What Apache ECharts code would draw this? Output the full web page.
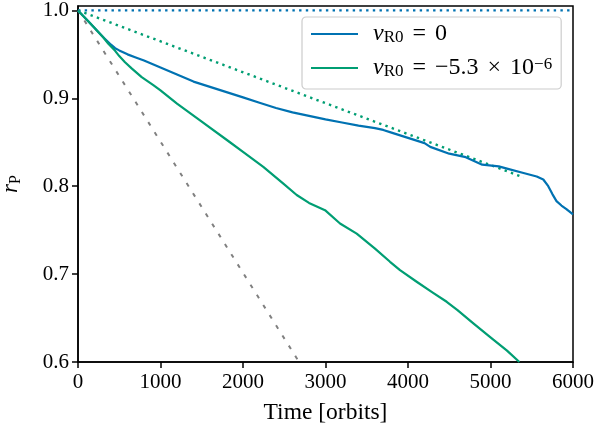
<!DOCTYPE html>
<html>
<head>
<meta charset="utf-8">
<script src="https://cdn.jsdelivr.net/npm/echarts@6/dist/echarts.min.js"></script>
<style>
html,body{margin:0;padding:0;background:#fff;}
#c{width:596px;height:432px;}
</style>
</head>
<body>
<div id="c"></div>
<script>
// Time [orbits] and r_P
var blueX = [0,150,300,400,450,500,600,700,800,1000,1200,1400,1600,1800,2000,2200,2400,2600,2800,3000,3200,3400,3600,3700,3800,4000,4200,4270,4500,4700,4900,5100,5200,5400,5560,5640,5700,5750,5800,5860,5920,6000];
var blueY = [1.0,0.985,0.970,0.961,0.957,0.9545,0.950,0.9465,0.943,0.935,0.927,0.919,0.913,0.907,0.901,0.895,0.889,0.884,0.880,0.876,0.8725,0.869,0.866,0.864,0.861,0.855,0.849,0.8447,0.837,0.833,0.8245,0.8225,0.820,0.815,0.811,0.8076,0.800,0.791,0.783,0.778,0.774,0.768];

var greenX = [0,150,300,368,450,500,570,650,772,913,1000,1200,1479,1842,2000,2246,2489,2651,2800,2994,3176,3378,3600,3782,3903,4105,4300,4469,4600,4792,5000,5200,5350];
var greenY = [1.0,0.985,0.970,0.962,0.954,0.948,0.941,0.934,0.924,0.915,0.909,0.894,0.875,0.850,0.839,0.822,0.803,0.790,0.781,0.7727,0.7576,0.746,0.729,0.714,0.7045,0.6913,0.679,0.6685,0.659,0.644,0.628,0.613,0.600];

var blueRefX = [0,6000];
var blueRefY = [1.0,1.0];
var greenRefX = [0,5400];
var greenRefY = [1.0,0.81];
var grayRefX = [0,2680];
var grayRefY = [1.0,0.6];

var xTicks = [0,1000,2000,3000,4000,5000,6000];
var yTicks = [0.6,0.7,0.8,0.9,1.0];

var legendNames = ['v0','v53'];

function pairs(xs, ys){ return xs.map(function(x,i){ return [x, ys[i]]; }); }

var FONT = 'Liberation Serif';
var chart = echarts.init(document.getElementById('c'));
chart.setOption({
  animation:false,
  backgroundColor:'#fff',
  grid:{left:78,right:23,top:6,bottom:70,containLabel:false,outerBoundsMode:'none',show:true,borderColor:'#000',borderWidth:1.5,backgroundColor:'transparent'},
  xAxis:{
    type:'value',min:0,max:6000,interval:1000,
    name:'Time [orbits]',nameLocation:'middle',nameGap:39,
    nameTextStyle:{fontFamily:FONT,fontSize:23.5,color:'#000'},
    axisLine:{show:true,onZero:false,lineStyle:{color:'#000',width:1.5}},
    axisTick:{show:true,inside:false,length:6,lineStyle:{color:'#000',width:1.5},customValues:xTicks},
    axisLabel:{fontFamily:FONT,fontSize:21,color:'#000',margin:10,customValues:xTicks,formatter:function(v){return String(v);}},
    splitLine:{show:false}
  },
  yAxis:{
    type:'value',min:0.6,max:1.005,
    name:'{r|r}{p|P}',nameLocation:'middle',nameGap:54,nameRotate:90,
    nameTextStyle:{rich:{r:{fontFamily:FONT,fontStyle:'italic',fontSize:23,color:'#000',lineHeight:26},p:{fontFamily:FONT,fontSize:16,color:'#000',verticalAlign:'bottom',lineHeight:16}}},
    axisLine:{show:true,onZero:false,lineStyle:{color:'#000',width:1.5}},
    axisTick:{show:true,inside:false,length:6,lineStyle:{color:'#000',width:1.5},customValues:yTicks},
    axisLabel:{fontFamily:FONT,fontSize:21,color:'#000',margin:9,customValues:yTicks,formatter:function(v){return v.toFixed(1);}},
    splitLine:{show:false}
  },
  legend:{
    data:legendNames,
    orient:'vertical',left:302,top:17,
    padding:[5,9,9,8],itemGap:10,itemWidth:47,itemHeight:24,
    itemStyle:{opacity:0},
    backgroundColor:'rgba(255,255,255,0.85)',borderColor:'#cccccc',borderWidth:1.2,borderRadius:4,
    formatter:function(n){
      if(n==='v0') return '{i|v}{s|R0}{e| = }{t|0}';
      return '{i|v}{s|R0}{e| = }{t|−5.3}{e| × }{t|10}{u|−6}';
    },
    textStyle:{padding:[0,0,0,10],rich:{
      i:{fontFamily:FONT,fontStyle:'italic',fontSize:24,color:'#000',lineHeight:24},
      s:{fontFamily:FONT,fontSize:17,color:'#000',verticalAlign:'bottom',lineHeight:14},
      e:{fontFamily:FONT,fontSize:24,color:'#000',lineHeight:24,padding:[0,3,0,3]},
      t:{fontFamily:FONT,fontSize:24,color:'#000',lineHeight:24},
      u:{fontFamily:FONT,fontSize:17,color:'#000',verticalAlign:'top',lineHeight:14}
    }}
  },
  series:[
    {name:'blueref',type:'line',data:pairs(blueRefX,blueRefY),symbol:'none',lineStyle:{color:'#0072B2',width:2.4,type:[2.4,4.3]},z:2},
    {name:'greenref',type:'line',data:pairs(greenRefX,greenRefY),symbol:'none',lineStyle:{color:'#009E73',width:2.4,type:[2.4,4.3]},z:2},
    {name:'grayref',type:'line',data:pairs(grayRefX,grayRefY),symbol:'none',lineStyle:{color:'#808080',width:2,type:[4,8]},z:2},
    {name:'v0',type:'line',data:pairs(blueX,blueY),symbol:'none',smooth:false,lineStyle:{color:'#0072B2',width:2.2,join:'round'},itemStyle:{color:'#0072B2'},z:3},
    {name:'v53',type:'line',data:pairs(greenX,greenY),symbol:'none',smooth:false,lineStyle:{color:'#009E73',width:2.2,join:'round'},itemStyle:{color:'#009E73'},z:3}
  ]
});
</script>
</body>
</html>
